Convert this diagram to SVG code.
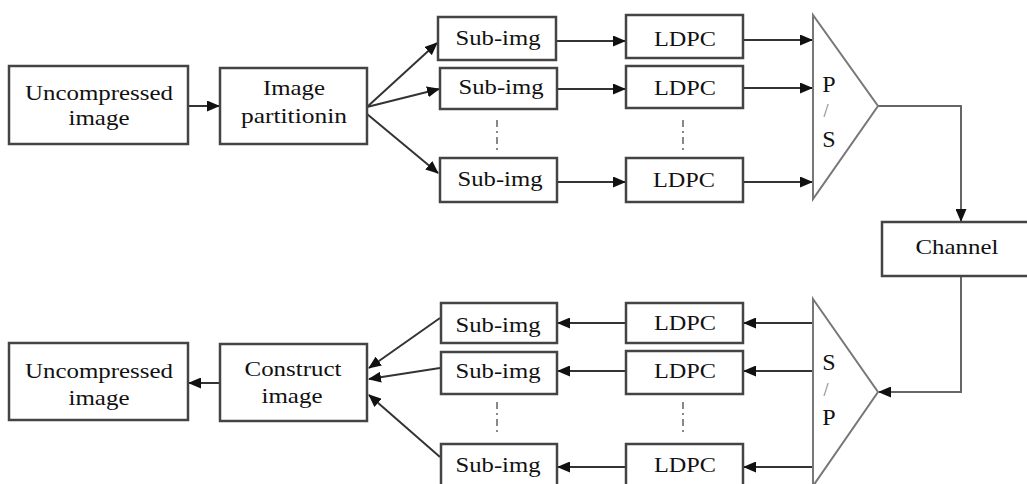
<svg xmlns="http://www.w3.org/2000/svg" width="1027" height="484" viewBox="0 0 1027 484" font-family="'Liberation Serif', serif">
<style>
.box{fill:#fff;stroke:#444;stroke-width:2.5}
.tri{fill:#fff;stroke:#777;stroke-width:2}
.t{font-family:'Liberation Serif','Times New Roman',Times,serif;font-size:22px;fill:#111;text-anchor:middle}
.big{font-size:24px}
.sl{font-family:'Liberation Serif','Times New Roman',Times,serif;font-size:18px;fill:#777;text-anchor:middle}
.c{fill:none;stroke:#333;stroke-width:2}
.g{stroke:#666}
.dot{fill:none;stroke:#888;stroke-width:2;stroke-dasharray:7 4 2 4}
</style>
<defs>
<marker id="ah" markerUnits="userSpaceOnUse" markerWidth="13" markerHeight="11" refX="12" refY="5.5" orient="auto">
<path d="M0,0 L13,5.5 L0,11 Z" fill="#111"/>
</marker>
</defs>
<rect width="1027" height="484" fill="#fff"/>
<g id="connectors">
<line class="c" x1="188" y1="106" x2="219" y2="106" marker-end="url(#ah)"/>
<line class="c" x1="367" y1="107" x2="437" y2="43" marker-end="url(#ah)"/>
<line class="c" x1="367" y1="107" x2="439" y2="89" marker-end="url(#ah)"/>
<line class="c" x1="367" y1="114" x2="438" y2="173" marker-end="url(#ah)"/>
<line class="c" x1="557" y1="41" x2="625" y2="41" marker-end="url(#ah)"/>
<line class="c" x1="557" y1="89" x2="625" y2="89" marker-end="url(#ah)"/>
<line class="c" x1="557" y1="182" x2="625" y2="182" marker-end="url(#ah)"/>
<line class="c" x1="743" y1="40" x2="812" y2="40" marker-end="url(#ah)"/>
<line class="c" x1="743" y1="88" x2="812" y2="88" marker-end="url(#ah)"/>
<line class="c" x1="743" y1="182" x2="812" y2="182" marker-end="url(#ah)"/>
<path class="c g" d="M878,106 H961 V221" marker-end="url(#ah)"/>
<path class="c g" d="M961,276 V392 H879" marker-end="url(#ah)"/>
<line class="c" x1="812" y1="323" x2="744" y2="323" marker-end="url(#ah)"/>
<line class="c" x1="812" y1="371" x2="744" y2="371" marker-end="url(#ah)"/>
<line class="c" x1="812" y1="467" x2="744" y2="467" marker-end="url(#ah)"/>
<line class="c" x1="626" y1="323" x2="558" y2="323" marker-end="url(#ah)"/>
<line class="c" x1="626" y1="371" x2="558" y2="371" marker-end="url(#ah)"/>
<line class="c" x1="626" y1="467" x2="558" y2="467" marker-end="url(#ah)"/>
<line class="c" x1="440" y1="318" x2="369" y2="368" marker-end="url(#ah)"/>
<line class="c" x1="440" y1="368" x2="369" y2="379" marker-end="url(#ah)"/>
<line class="c" x1="440" y1="457" x2="369" y2="395" marker-end="url(#ah)"/>
<line class="c" x1="220" y1="383" x2="189" y2="383" marker-end="url(#ah)"/>
<line class="dot" x1="497" y1="120" x2="497" y2="150"/>
<line class="dot" x1="683" y1="120" x2="683" y2="150"/>
<line class="dot" x1="497" y1="402" x2="497" y2="436"/>
<line class="dot" x1="683" y1="402" x2="683" y2="436"/>
</g>
<g id="uncompressed-top">
<rect class="box" x="9" y="66" width="179" height="78"/>
<text class="t" x="99" y="100" textLength="148" lengthAdjust="spacingAndGlyphs">Uncompressed</text>
<text class="t" x="99" y="125" textLength="61" lengthAdjust="spacingAndGlyphs">image</text>
</g>
<g id="partition">
<rect class="box" x="220" y="68" width="147" height="76"/>
<text class="t" x="294" y="95" textLength="62" lengthAdjust="spacingAndGlyphs">Image</text>
<text class="t" x="294" y="123" textLength="106" lengthAdjust="spacingAndGlyphs">partitionin</text>
</g>
<g id="subimg-t1"><rect class="box" x="438" y="17" width="118" height="43"/><text class="t" x="498" y="45" textLength="85" lengthAdjust="spacingAndGlyphs">Sub-img</text></g>
<g id="subimg-t2"><rect class="box" x="440" y="68" width="117" height="41"/><text class="t" x="501" y="94" textLength="85" lengthAdjust="spacingAndGlyphs">Sub-img</text></g>
<g id="subimg-t3"><rect class="box" x="440" y="158" width="117" height="44"/><text class="t" x="500" y="186" textLength="85" lengthAdjust="spacingAndGlyphs">Sub-img</text></g>
<g id="ldpc-t1"><rect class="box" x="626" y="15" width="117" height="43"/><text class="t" x="685" y="46" textLength="62" lengthAdjust="spacingAndGlyphs">LDPC</text></g>
<g id="ldpc-t2"><rect class="box" x="626" y="66" width="117" height="42"/><text class="t" x="685" y="95" textLength="62" lengthAdjust="spacingAndGlyphs">LDPC</text></g>
<g id="ldpc-t3"><rect class="box" x="626" y="158" width="117" height="44"/><text class="t" x="684" y="187" textLength="62" lengthAdjust="spacingAndGlyphs">LDPC</text></g>
<g id="ps">
<path class="tri" d="M813,15 L878,106 L813,199 Z"/>
<text class="t big" x="829" y="92">P</text>
<text class="sl" x="826" y="117">/</text>
<text class="t big" x="829" y="147">S</text>
</g>
<g id="channel">
<rect class="box" x="882" y="222" width="150" height="54"/>
<text class="t" x="957" y="254" textLength="83" lengthAdjust="spacingAndGlyphs">Channel</text>
</g>
<g id="sp">
<path class="tri" d="M813,299 L878,392 L813,486 Z"/>
<text class="t big" x="829" y="370">S</text>
<text class="sl" x="826" y="396">/</text>
<text class="t big" x="829" y="425">P</text>
</g>
<g id="ldpc-b1"><rect class="box" x="626" y="303" width="117" height="40"/><text class="t" x="685" y="330" textLength="62" lengthAdjust="spacingAndGlyphs">LDPC</text></g>
<g id="ldpc-b2"><rect class="box" x="626" y="351" width="117" height="43"/><text class="t" x="685" y="378" textLength="62" lengthAdjust="spacingAndGlyphs">LDPC</text></g>
<g id="ldpc-b3"><rect class="box" x="626" y="444" width="117" height="44"/><text class="t" x="685" y="472" textLength="62" lengthAdjust="spacingAndGlyphs">LDPC</text></g>
<g id="subimg-b1"><rect class="box" x="441" y="303" width="116" height="40"/><text class="t" x="498" y="332" textLength="85" lengthAdjust="spacingAndGlyphs">Sub-img</text></g>
<g id="subimg-b2"><rect class="box" x="441" y="352" width="116" height="42"/><text class="t" x="498" y="378" textLength="85" lengthAdjust="spacingAndGlyphs">Sub-img</text></g>
<g id="subimg-b3"><rect class="box" x="441" y="444" width="116" height="44"/><text class="t" x="498" y="472" textLength="85" lengthAdjust="spacingAndGlyphs">Sub-img</text></g>
<g id="construct">
<rect class="box" x="220" y="344" width="147" height="77"/>
<text class="t" x="293" y="376" textLength="97" lengthAdjust="spacingAndGlyphs">Construct</text>
<text class="t" x="292" y="403" textLength="61" lengthAdjust="spacingAndGlyphs">image</text>
</g>
<g id="uncompressed-bottom">
<rect class="box" x="9" y="343" width="179" height="77"/>
<text class="t" x="99" y="378" textLength="148" lengthAdjust="spacingAndGlyphs">Uncompressed</text>
<text class="t" x="99" y="405" textLength="61" lengthAdjust="spacingAndGlyphs">image</text>
</g>
</svg>
